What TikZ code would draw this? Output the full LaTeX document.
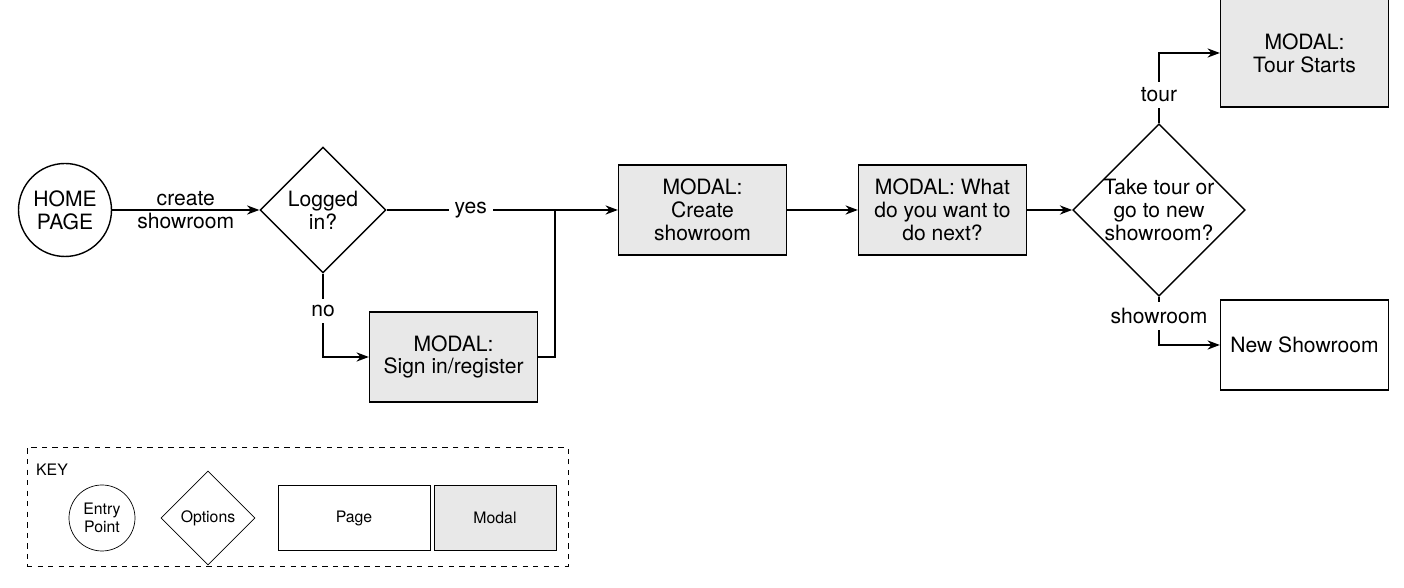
\documentclass[tikz,border=0pt]{standalone}
\usepackage{fontspec}
\setmainfont{TeX Gyre Heros}
\usetikzlibrary{positioning, shapes.geometric, arrows.meta}
\tikzset{
	entry/.style={draw, circle, thick, minimum size=1.86cm, inner sep=0pt, align=center, font=\fontsize{12}{13}\selectfont},
	option/.style={draw, diamond, thick, minimum width=2.52cm, minimum height=2.52cm, inner sep=0pt, align=center, font=\fontsize{12}{13}\selectfont},
	page/.style={draw, rectangle, thick, minimum width=3.36cm, minimum height=1.8cm, align=center, font=\fontsize{12}{13}\selectfont},
	modal/.style={page, fill=gray!18},
	keytext/.style={font=\fontsize{9}{10}\selectfont},
	link/.style={thick, -{Stealth[length=7pt]}}
}
\begin{document}
\begin{tikzpicture}
		\useasboundingbox (0,0) rectangle (28.08,11.76);
		% main flow
		\node (home) at (1.3,7.56) [entry]{HOME\\PAGE};
		\node (logged) at (6.46,7.56) [option]{Logged\\in?};
		\node (signin) at (9.07,4.62) [modal]{MODAL:\\Sign in/register};
		\node (create) at (14.05,7.56) [modal]{MODAL:\\Create\\showroom};
		\node (next) at (18.85,7.56) [modal]{MODAL: What\\do you want to\\do next?};
		\node (choice) at (23.18,7.56) [option]{Take tour or\\go to new\\showroom?};
		\node (tour) at (26.09,10.7) [modal, minimum height=2.16cm]{MODAL:\\Tour Starts};
		\node (showroom) at (26.09,4.86) [page]{New Showroom};
		\coordinate (join) at (11.1,7.56);
		
		\draw[link] (home) -- node[align=center, font=\fontsize{12}{13}\selectfont]{create\\showroom} (logged);
		\draw[thick] (logged.east) -- node[fill=white, font=\fontsize{12}{13}\selectfont]{yes} (join);
		\draw[link] (join) -- (create.west);
		\draw[link] (logged.south) -- node[pos=0.45, fill=white, font=\fontsize{12}{13}\selectfont]{no} (logged.south |- signin.west) -- (signin.west);
		\draw[thick] (signin.east) -| (join);
		\draw[link] (create) -- (next);
		\draw[link] (next) -- (choice);
		\draw[link] (choice.north) -- node[pos=0.4, fill=white, font=\fontsize{12}{13}\selectfont]{tour} (choice.north |- tour.west) -- (tour.west);
		\draw[link] (choice.south) -- node[pos=0.4, fill=white, font=\fontsize{12}{13}\selectfont]{showroom} (choice.south |- showroom.west) -- (showroom.west);
		
		% key
		\node (key) at (5.95,1.62) [draw, dashed, minimum width=10.82cm, minimum height=2.38cm]{};
		\node (keylabel) at (1.04,2.36) [keytext]{KEY};
		\node (keyentry) at (2.04,1.4) [draw, circle, minimum size=1.32cm, inner sep=0pt, align=center, keytext]{Entry\\Point};
		\node (keyoption) at (4.16,1.4) [draw, diamond, minimum width=1.88cm, minimum height=1.88cm, inner sep=0pt, keytext]{Options};
		\node (keypage) at (7.08,1.4) [draw, minimum width=3.04cm, minimum height=1.3cm, keytext]{Page};
		\node (keymodal) at (9.9,1.4) [draw, fill=gray!18, minimum width=2.44cm, minimum height=1.3cm, keytext]{Modal};
\end{tikzpicture}
\end{document}
